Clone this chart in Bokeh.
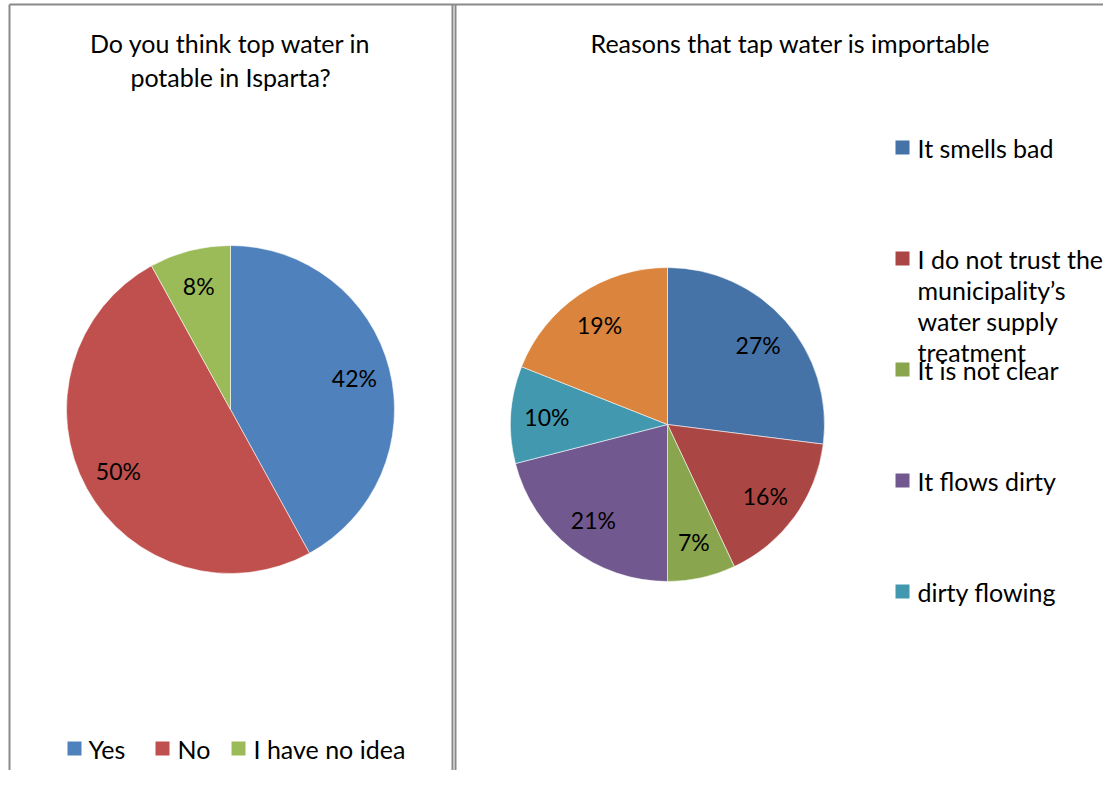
import numpy as np
from bokeh.plotting import figure
from bokeh.models import Range1d, ColumnDataSource
from bokeh.core.properties import value
from bokeh.embed import file_html
from bokeh.resources import INLINE

# ---------------- data ----------------
left_title = ["Do you think top water in", "potable in Isparta?"]
left_categories = ["Yes", "No", "I have no idea"]
left_values = [42, 50, 8]
left_colors = ["#4F81BD", "#C0504D", "#9BBB59"]

right_title = ["Reasons that tap water is importable"]
right_categories = ["It smells bad",
                    "I do not trust the municipality\u2019s water supply treatment",
                    "It is not clear", "It flows dirty", "dirty flowing", "Other"]
right_legend_lines = [["It smells bad"],
                      ["I do not trust the", "municipality\u2019s", "water supply", "treatment"],
                      ["It is not clear"], ["It flows dirty"], ["dirty flowing"]]
right_values = [27, 16, 7, 21, 10, 19]
right_colors = ["#4572A7", "#AA4643", "#89A54E", "#71588F", "#4198AF", "#DB843D"]

# ---------------- figure (data units == picture pixels, y flipped) ----------------
W, H = 1103, 770
p = figure(width=W, height=H, output_backend="svg", toolbar_location=None,
           x_range=Range1d(0, W), y_range=Range1d(0, H),
           min_border=0, outline_line_color=None)
p.axis.visible = False
p.grid.visible = False
p.background_fill_color = "white"

def Y(sy):
    return H - sy

FONT = value("Lato")
BORDER = "#8a8a8a"

# panel borders
p.segment(x0=[9, 452, 455, 9], y0=[Y(4), Y(4), Y(4), Y(4)],
          x1=[9, 452, 455, 1119], y1=[Y(800), Y(800), Y(800), Y(4)],
          line_color=BORDER, line_width=2)


def draw_pie(vals, colors, cx, cy, r, lab_f):
    vals = np.asarray(vals, dtype=float)
    frac = vals / vals.sum()
    cum = np.concatenate([[0], np.cumsum(frac)])
    start = np.pi / 2 - cum[:-1] * 2 * np.pi
    end = np.pi / 2 - cum[1:] * 2 * np.pi
    src = ColumnDataSource(dict(start=start, end=end, color=colors))
    p.wedge(x=cx, y=Y(cy), radius=r, start_angle="start", end_angle="end",
            direction="clock", fill_color="color", line_color="white",
            line_width=0.8, line_alpha=0.7, source=src)
    mid = (cum[:-1] + cum[1:]) / 2 * 2 * np.pi
    lx = cx + lab_f * r * np.sin(mid)
    ly = Y(cy) + lab_f * r * np.cos(mid)
    labels = ["%d%%" % v for v in vals]
    p.text(x=lx, y=ly, text=labels, text_font=FONT, text_font_size="23px",
           text_align="center", text_baseline="middle", text_color="#000000")


draw_pie(left_values, left_colors, 230, 409, 164, 0.78)
draw_pie(right_values, right_colors, 667, 424, 157, 0.77)

# titles
p.text(x=[230, 230], y=[Y(42), Y(76)], text=left_title, text_font=FONT,
       text_font_size="25px", text_align="center", text_baseline="middle",
       text_color="#000000")
p.text(x=[790], y=[Y(42)], text=right_title, text_font=FONT,
       text_font_size="25px", text_align="center", text_baseline="middle",
       text_color="#000000")

# left legend (horizontal, bottom)
leg_sq_x = [74, 162, 238]
leg_tx_x = [88, 177, 253]
p.rect(x=leg_sq_x, y=[Y(748)] * 3, width=14, height=14, width_units="screen",
       height_units="screen", fill_color=left_colors, line_color=None)
p.text(x=leg_tx_x, y=[Y(748)] * 3, text=left_categories, text_font=FONT,
       text_font_size="25px", text_align="left", text_baseline="middle",
       text_color="#000000")

# right legend (vertical)
ys = [147, 258, 369, 480, 591]
p.rect(x=[902] * 5, y=[Y(v) for v in ys], width=14, height=14, width_units="screen",
       height_units="screen", fill_color=right_colors[:5], line_color=None)
tx, ty, tt = [], [], []
for yy, lines in zip(ys, right_legend_lines):
    for i, ln in enumerate(lines):
        tx.append(917)
        ty.append(Y(yy + i * 31))
        tt.append(ln)
p.text(x=tx, y=ty, text=tt, text_font=FONT, text_font_size="25px",
       text_align="left", text_baseline="middle", text_color="#000000")

open("out.html", "w").write(file_html(p, INLINE))
